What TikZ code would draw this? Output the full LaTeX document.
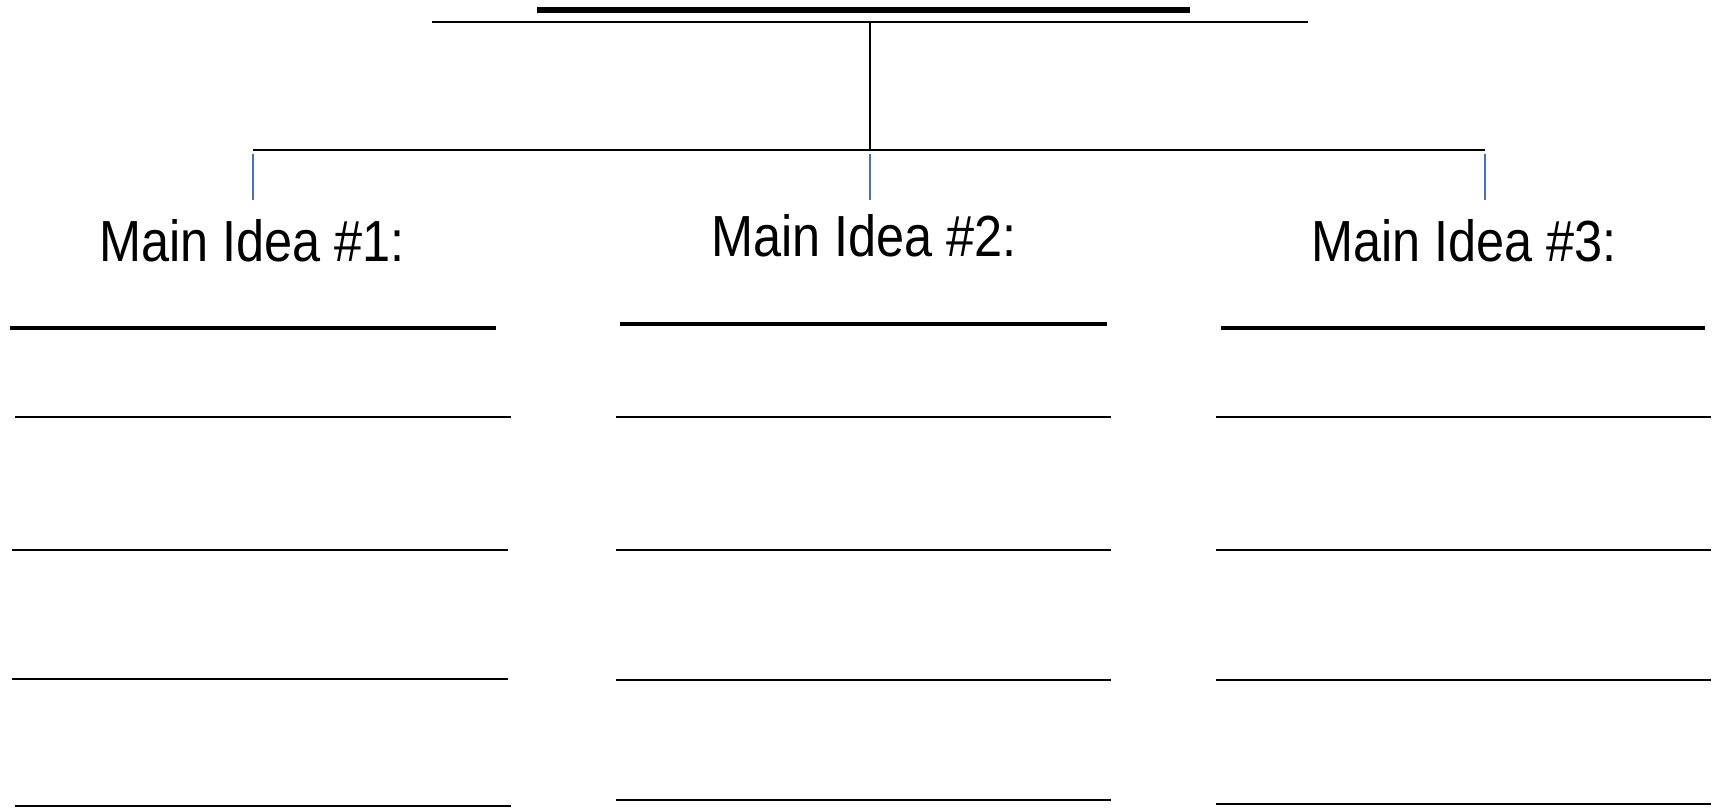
\documentclass[tikz,border=0pt]{standalone}
\usepackage{fontspec}
\setmainfont{Liberation Sans}
\usepackage{tikz}
\usetikzlibrary{positioning}
\definecolor{tickblue}{RGB}{68,114,196}

\begin{document}
\begin{tikzpicture}[
    idea/.style={anchor=base, inner sep=0pt, font=\fontsize{16.5}{18}\selectfont, xscale=0.87, transform shape},
    blank/.style={line width=0.7pt},
    headline/.style={line width=1.3pt},
    tick/.style={tickblue, line width=0.45pt}
]
\useasboundingbox (0,0) rectangle (17.15,8.08);

% Titel
\draw[line width=1.45pt] (5.37,7.98) -- (11.90,7.98);
\draw[line width=0.65pt] (4.32,7.86) -- (13.08,7.86);

% Baum
\coordinate (top) at (8.70,7.86);
\coordinate (hub) at (8.70,6.58);
\coordinate (b1) at (2.53,6.58);
\coordinate (b3) at (14.85,6.58);
\coordinate (t1) at (2.53,6.08);
\coordinate (t2) at (8.70,6.08);
\coordinate (t3) at (14.85,6.08);
\draw[line width=0.6pt] (top) -- (hub);
\draw[line width=0.6pt] (b1) -- (hub) -- (b3);
\draw[tick] ([yshift=-1pt]b1) -- (t1);
\draw[tick] ([yshift=-1pt]hub) -- (t2);
\draw[tick] ([yshift=-1pt]b3) -- (t3);

% Hauptideen
\node[idea] (idea1) at (2.52,5.46) {Main Idea \#1:};
\node[idea] (idea2) at (8.64,5.51) {Main Idea \#2:};
\node[idea] (idea3) at (14.64,5.46) {Main Idea \#3:};

% Spalte 1
\draw[headline] (0.10,4.80) -- (4.96,4.80);
\draw[blank] (0.15,3.91) -- (5.11,3.91);
\draw[blank] (0.12,2.58) -- (5.08,2.58);
\draw[blank] (0.12,1.29) -- (5.08,1.29);
\draw[blank] (0.15,0.02) -- (5.11,0.02);

% Spalte 2
\draw[headline] (6.20,4.84) -- (11.07,4.84);
\draw[blank] (6.16,3.91) -- (11.11,3.91);
\draw[blank] (6.16,2.58) -- (11.11,2.58);
\draw[blank] (6.16,1.28) -- (11.11,1.28);
\draw[blank] (6.16,0.08) -- (11.11,0.08);

% Spalte 3
\draw[headline] (12.21,4.80) -- (17.05,4.80);
\draw[blank] (12.16,3.91) -- (17.11,3.91);
\draw[blank] (12.16,2.58) -- (17.11,2.58);
\draw[blank] (12.16,1.28) -- (17.11,1.28);
\draw[blank] (12.16,0.04) -- (17.11,0.04);
\end{tikzpicture}
\end{document}
